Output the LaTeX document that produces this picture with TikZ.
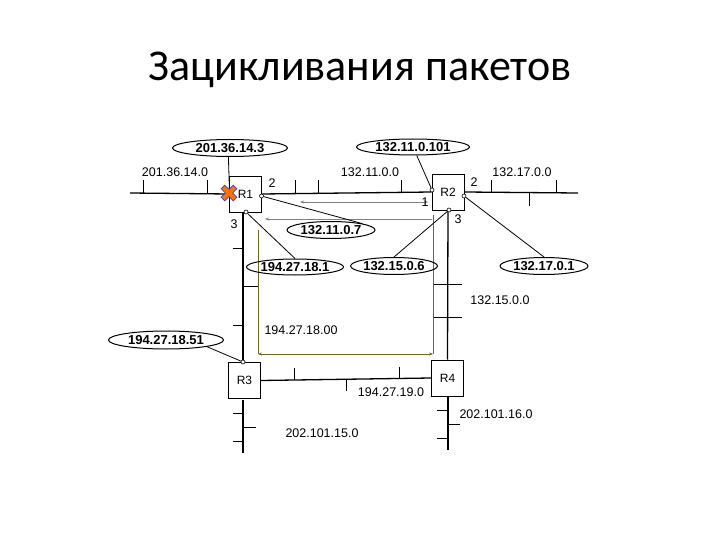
\documentclass[tikz,border=0pt]{standalone}
\usepackage{fontspec}
\setmainfont{Liberation Sans}
\newfontfamily\titlefont{Carlito}
\usetikzlibrary{arrows.meta,shapes.geometric,calc}
\begin{document}
\begin{tikzpicture}[x=1pt,y=-1pt,
 bus/.style={line width=1.3pt},
 tk/.style={line width=1pt},
 router/.style={draw,line width=0.8pt,fill=white,minimum width=32pt,minimum height=36pt,inner sep=0pt,font=\fontsize{12}{12}\selectfont},
 addr/.style={draw,ellipse,line width=1pt,inner sep=0pt,font=\bfseries\fontsize{13}{12}\selectfont},
 lbl/.style={font=\fontsize{12.5}{12}\selectfont},
 port/.style={circle,draw,fill=white,inner sep=0pt,minimum size=4pt,line width=0.6pt},
 loop/.style={draw=olive!70!black,line width=0.8pt},
 trace/.style={draw=gray,line width=0.6pt,-{Stealth[length=4pt,width=3pt]}}]
\useasboundingbox (0,0) rectangle (720,540);
\node[font=\titlefont\fontsize{44}{44}\selectfont] (title) at (360,70) {Зацикливания пакетов};
% routers
\node[router] (R1) at (245.5,194) {R1};
\node[router] (R2) at (448,192) {R2};
\node[router] (R3) at (244.5,380.5) {R3};
\node[router] (R4) at (447.5,378) {R4};
% buses
\coordinate (bl) at (130,193); \coordinate (br) at (578,193);
\draw[bus] (bl) -- (R1.west);
\draw[bus] (R1.east) -- (R2.west);
\draw[bus] (R2.east) -- (br);
\foreach \x in {143,207,295,318,401,491,556} \draw[tk] (\x,193) -- (\x,180);
\draw[tk] (529,193) -- (529,206);
\coordinate (lb) at (243,453); \coordinate (rb) at (448,450);
\draw[bus] (243,212) -- (243,361);
\draw[bus] (243,400) -- (lb);
\draw[bus] (R2.south) -- (R4.north);
\draw[bus] (448,397) -- (rb);
\draw[bus] (R3.east) -- (R4.west);
\draw[tk] (243,286) -- (258,286);
\foreach \y in {248,325,413,441} \draw[tk] (243,\y) -- (233,\y);
\draw[tk] (243,427) -- (256,427);
\foreach \y in {284,317} \draw[tk] (434,\y) -- (462,\y);
\foreach \y in {410,438} \draw[tk] (448,\y) -- (437,\y);
\draw[tk] (448,424) -- (460,424);
\draw[tk] (294,379.5) -- (294,368);
\draw[tk] (346,379) -- (346,391);
\draw[tk] (399,378.5) -- (399,367);
% loop
\coordinate (la) at (258,230); \coordinate (lc) at (433,215);
\draw[loop] (la) -- (258,354);
\draw[loop] (lc) -- (433,354);
\draw[loop,{Stealth[length=4pt,width=3pt]}-{Stealth[length=4pt,width=3pt]}] (258,354) -- (433,354);
\coordinate (t1a) at (300,202); \coordinate (t1b) at (428,202);
\draw[trace,{Stealth[length=4pt,width=3pt]}-{Stealth[length=4pt,width=3pt]}] (t1a) -- (t1b);
\coordinate (t2a) at (265,219); \coordinate (t2b) at (432,219);
\draw[trace] (t2b) -- (t2a);
% labels
\node[lbl] (n1) at (175,172) {201.36.14.0};
\node[lbl] (n2) at (370,172) {132.11.0.0};
\node[lbl] (n3) at (522,172) {132.17.0.0};
\node[lbl] (n4) at (500,300) {132.15.0.0};
\node[lbl] (n5) at (301,330) {194.27.18.00};
\node[lbl] (n6) at (391,392) {194.27.19.0};
\node[lbl] (n7) at (496,414) {202.101.16.0};
\node[lbl] (n8) at (322,433) {202.101.15.0};
\node[lbl] (p1) at (272,183) {2};
\node[lbl] (p2) at (474,182) {2};
\node[lbl] (p3) at (234,224) {3};
\node[lbl] (p4) at (458,219) {3};
\node[lbl] (p5) at (425,202) {1};
% ellipses
\node[addr,minimum width=115pt,minimum height=17pt] (e1) at (230,148) {201.36.14.3};
\node[addr,minimum width=113pt,minimum height=16pt] (e2) at (413,147) {132.11.0.101};
\node[addr,minimum width=88pt,minimum height=17pt] (e3) at (331,230) {132.11.0.7};
\node[addr,minimum width=86pt,minimum height=16pt] (e4) at (295,267) {194.27.18.1};
\node[addr,minimum width=78pt,minimum height=17pt] (e5) at (394,266) {132.15.0.6};
\node[addr,minimum width=88pt,minimum height=17pt] (e6) at (544,266) {132.17.0.1};
\node[addr,minimum width=115pt,minimum height=18pt] (e7) at (166,340) {194.27.18.51};
% ports
\node[port] (q1) at (229.5,193) {};
\node[port] (q2) at (261.5,196) {};
\node[port] (q3) at (246,212) {};
\node[port] (q4) at (432,190) {};
\node[port] (q5) at (464,196) {};
\node[port] (q6) at (449,210) {};
\node[port] (q7) at (243,362) {};
\draw[line width=0.8pt] (e1.260) -- (q1);
\draw[line width=0.8pt] (e2) -- (q4);
\draw[line width=0.8pt] (e3.north east) -- (q2);
\draw[line width=0.8pt] (e4.north) -- (q3);
\draw[line width=0.8pt] (e5.north) -- (q6);
\draw[line width=0.8pt] (e6.north) -- (q5);
\draw[line width=0.8pt] (e7.south east) -- (q7);
% cross
\coordinate (x0) at (229,193);
\foreach \a in {45,135}{
 \draw[line width=6pt,blue!50!gray] ($(x0)+(\a:9)$) -- ($(x0)+(\a+180:9)$);}
\foreach \a in {45,135}{
 \draw[line width=4pt,orange!90!red] ($(x0)+(\a:8)$) -- ($(x0)+(\a+180:8)$);}
\end{tikzpicture}
\end{document}
